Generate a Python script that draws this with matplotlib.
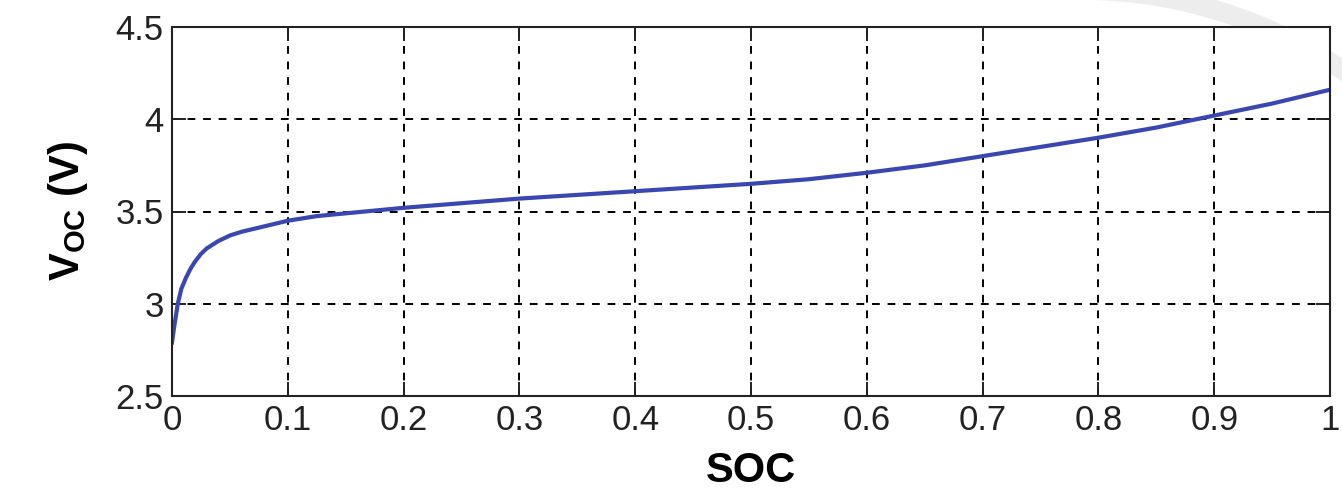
import numpy as np
import matplotlib
matplotlib.use("Agg")
import matplotlib.pyplot as plt
from matplotlib.patches import Arc

plt.rcParams['font.family'] = ['Liberation Sans', 'DejaVu Sans']
plt.rcParams['mathtext.fontset'] = 'custom'
plt.rcParams['mathtext.rm'] = 'Liberation Sans'
plt.rcParams['mathtext.bf'] = 'Liberation Sans:bold'

# open-circuit voltage vs state of charge
soc = [0.0, 0.002, 0.005, 0.008, 0.012, 0.016, 0.02, 0.025, 0.03, 0.04, 0.05,
       0.06, 0.08, 0.1, 0.125, 0.15, 0.2, 0.25, 0.3, 0.35, 0.4, 0.45, 0.5,
       0.55, 0.6, 0.65, 0.7, 0.75, 0.8, 0.85, 0.9, 0.95, 1.0]
voc = [2.79, 2.88, 3.0, 3.08, 3.14, 3.19, 3.23, 3.27, 3.30, 3.34, 3.37,
       3.39, 3.42, 3.45, 3.475, 3.49, 3.52, 3.545, 3.57, 3.59, 3.61, 3.63, 3.65,
       3.675, 3.71, 3.75, 3.80, 3.85, 3.90, 3.955, 4.02, 4.085, 4.16]

xticks = [0, 0.1, 0.2, 0.3, 0.4, 0.5, 0.6, 0.7, 0.8, 0.9, 1]
xlabels = ['0', '0.1', '0.2', '0.3', '0.4', '0.5', '0.6', '0.7', '0.8', '0.9', '1']
yticks = [2.5, 3, 3.5, 4, 4.5]
ylabels = ['2.5', '3', '3.5', '4', '4.5']

fig = plt.figure(figsize=(13.42, 4.92), dpi=100)
ax = fig.add_axes([172 / 1342, 1 - 396 / 492, (1330 - 172) / 1342, (396 - 27) / 492])

ax.plot(soc, voc, color='#3a47b0', linewidth=3)

ax.set_xlim(0, 1)
ax.set_ylim(2.5, 4.5)
ax.set_xticks(xticks)
ax.set_xticklabels(xlabels)
ax.set_yticks(yticks)
ax.set_yticklabels(ylabels)
ax.grid(True, color='black', linestyle=(0, (4, 4)), linewidth=1.4)
ax.tick_params(direction='in', length=10, width=1.4, labelsize=25,
               top=True, right=True, colors='#222222', pad=6)
for s in ax.spines.values():
    s.set_linewidth(1.5)
    s.set_color('#222222')

ax.set_xlabel('SOC', fontsize=30, fontweight='bold', labelpad=10)
ax.set_ylabel(r'$\mathbf{V_{OC}}$ (V)', fontsize=30, fontweight='bold', labelpad=18)

# faint grey arc behind the axes in the top right corner of the original
arc = Arc((1080 / 1342, 1 - 460 / 492), 2 * 470 / 1342, 2 * 470 / 492, theta1=30, theta2=90,
          transform=fig.transFigure, color='#ededed', linewidth=14, zorder=-5)
fig.patches.append(arc)

fig.savefig('out.png', dpi=100)
